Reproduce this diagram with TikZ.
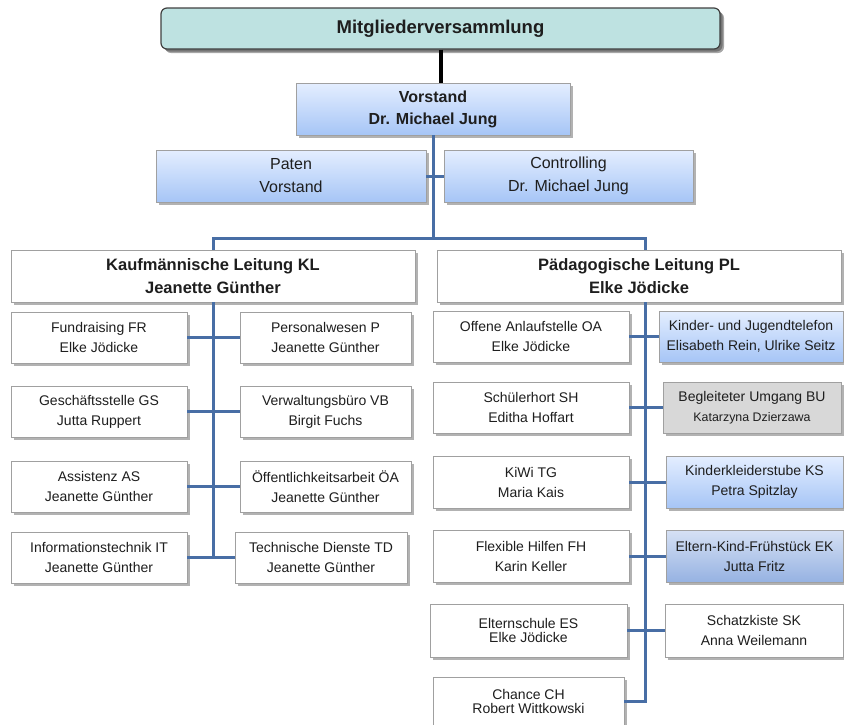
\documentclass[tikz,border=0pt]{standalone}
\usepackage{fontspec}
\setmainfont{Liberation Sans}
\usetikzlibrary{shadows}
\definecolor{mvteal}{RGB}{190,226,225}
\definecolor{bluetop}{RGB}{228,238,255}
\definecolor{bluebot}{RGB}{166,197,246}
\definecolor{ektop}{RGB}{214,225,244}
\definecolor{ekbot}{RGB}{150,178,226}
\definecolor{bugray}{RGB}{216,216,216}
\definecolor{boxgray}{RGB}{160,160,160}
\definecolor{linkblue}{RGB}{72,110,165}
\definecolor{txt}{RGB}{30,30,30}

\begin{document}
\begin{tikzpicture}[x=1pt, y=-1pt,
  box/.style={draw=boxgray, line width=0.8pt, fill=white, inner sep=1pt, align=center, text=txt,
    font=\fontsize{14}{20}\selectfont,
    drop shadow={shadow xshift=2.5pt, shadow yshift=-2.5pt, fill=black, opacity=0.3}},
  bluebox/.style={box, top color=bluetop, bottom color=bluebot},
  head/.style={font=\bfseries\fontsize{16.5}{23}\selectfont},
  link/.style={draw=linkblue, line width=3pt}]
\clip (0,0) rectangle (844,724);

% Mitgliederversammlung und Vorstand
\node[box, fill=mvteal, draw=black!75, line width=1.2pt, rounded corners=6pt,
  drop shadow={shadow xshift=4pt, shadow yshift=-4pt, fill=black, opacity=0.35},
  font=\bfseries\fontsize{18.5}{22}\selectfont,
  minimum width=559pt, minimum height=41pt] (mv) at (440.5,28.5) {Mitgliederversammlung};
\node[bluebox, font=\bfseries\fontsize{16}{22}\selectfont, minimum width=274pt, minimum height=52pt]
  (vs) at (433,109) {Vorstand\\Dr. Michael Jung};
\node[bluebox, font=\fontsize{16}{23}\selectfont, minimum width=270pt, minimum height=52pt]
  (pa) at (291,176) {Paten\\Vorstand};
\node[bluebox, font=\fontsize{16}{23}\selectfont, minimum width=249pt, minimum height=52pt]
  (co) at (568.5,176) {Controlling\\Dr. Michael Jung};

% Leitungen
\node[box, head, minimum width=404pt, minimum height=52pt] (kl) at (213,276) {Kaufmännische Leitung KL\\Jeanette Günther};
\node[box, head, minimum width=404pt, minimum height=52pt] (pl) at (639,276) {Pädagogische Leitung PL\\Elke Jödicke};

% kaufmaennischer Bereich
\node[box, minimum width=176pt, minimum height=51pt] (fr) at (99,337.5) {Fundraising FR\\Elke Jödicke};
\node[box, minimum width=171pt, minimum height=51pt] (pe) at (325.5,337.5) {Personalwesen P\\Jeanette Günther};
\node[box, minimum width=176pt, minimum height=51pt] (gs) at (99,411.5) {Geschäftsstelle GS\\Jutta Ruppert};
\node[box, minimum width=171pt, minimum height=51pt] (vb) at (325.5,411.5) {Verwaltungsbüro VB\\Birgit Fuchs};
\node[box, minimum width=176pt, minimum height=51pt] (as) at (99,486.5) {Assistenz AS\\Jeanette Günther};
\node[box, minimum width=171pt, minimum height=51pt] (oe) at (325.5,486.5) {Öffentlichkeitsarbeit ÖA\\Jeanette Günther};
\node[box, minimum width=176pt, minimum height=51pt] (it) at (99,557.5) {Informationstechnik IT\\Jeanette Günther};
\node[box, minimum width=172pt, minimum height=51pt] (td) at (321,557.5) {Technische Dienste TD\\Jeanette Günther};

% paedagogischer Bereich
\node[box, minimum width=196pt, minimum height=51pt] (oa) at (531,336.5) {Offene Anlaufstelle OA\\Elke Jödicke};
\node[bluebox, minimum width=184pt, minimum height=51pt] (kj) at (751,336.5) {Kinder- und Jugendtelefon\\Elisabeth Rein, Ulrike Seitz};
\node[box, minimum width=196pt, minimum height=51pt] (sh) at (531,407.5) {Schülerhort SH\\Editha Hoffart};
\node[box, fill=bugray, minimum width=178pt, minimum height=51pt] (bu) at (752,407.5)
  {Begleiteter Umgang BU\\{\fontsize{12.4}{20}\selectfont Katarzyna Dzierzawa}};
\node[box, minimum width=196pt, minimum height=52pt] (kw) at (531,482) {KiWi TG\\Maria Kais};
\node[bluebox, minimum width=177pt, minimum height=52pt] (ks) at (754.5,482) {Kinderkleiderstube KS\\Petra Spitzlay};
\node[box, minimum width=196pt, minimum height=52pt] (fh) at (531,556) {Flexible Hilfen FH\\Karin Keller};
\node[box, top color=ektop, bottom color=ekbot, minimum width=177pt, minimum height=52pt] (ek) at (754.5,556)
  {Eltern-Kind-Frühstück EK\\Jutta Fritz};
\node[box, font=\fontsize{14}{14}\selectfont, minimum width=197pt, minimum height=53pt] (es) at (528.5,630.5) {Elternschule ES\\Elke Jödicke};
\node[box, minimum width=178pt, minimum height=53pt] (sk) at (754,630.5) {Schatzkiste SK\\Anna Weilemann};
\node[box, font=\fontsize{14}{14}\selectfont, minimum width=191pt, minimum height=49pt] (ch) at (528.5,701.5) {Chance CH\\Robert Wittkowski};

% Verbindungen
\coordinate (pbus) at (645,238);
\draw[line width=4pt, black] (mv.south) -- (mv.south |- vs.north);
\draw[link] (vs.south) -- (vs.south |- pbus);
\draw[link] (pa.east) -- (pa.east -| vs.south);
\draw[link] (co.west) -- (co.west -| vs.south);
\draw[link] (kl.north) |- (pbus) -- (pbus |- pl.north);
\draw[link] (kl.south) -- (kl.south |- it.east);
\draw[link] (fr.east) -- (pe.west);
\draw[link] (gs.east) -- (vb.west);
\draw[link] (as.east) -- (oe.west);
\draw[link] (it.east) -- (td.west);
\draw[link] (pl.south -| pbus) |- (ch.east);
\draw[link] (oa.east) -- (kj.west);
\draw[link] (sh.east) -- (bu.west);
\draw[link] (kw.east) -- (ks.west);
\draw[link] (fh.east) -- (ek.west);
\draw[link] (es.east) -- (sk.west);
\end{tikzpicture}
\end{document}
